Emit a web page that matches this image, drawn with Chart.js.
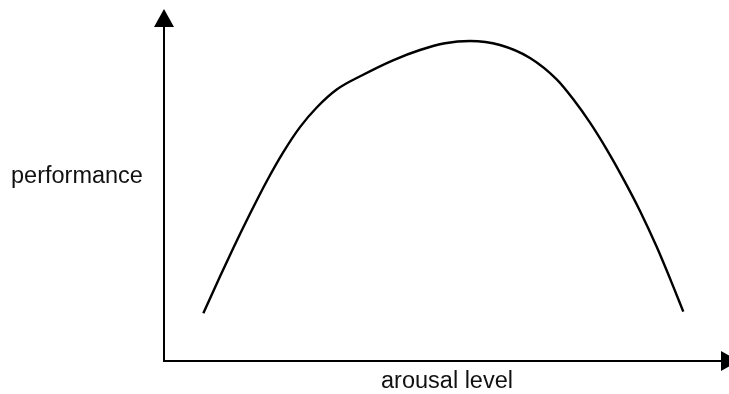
<!DOCTYPE html>
<html>
<head>
<meta charset="utf-8">
<script src="https://cdn.jsdelivr.net/npm/chart.js@4/dist/chart.umd.min.js"></script>
<style>
    html, body { margin: 0; padding: 0; background: #fff; }
    #wrap { width: 729px; height: 394px; }
</style>
</head>
<body>
<div id="wrap"><canvas id="curve" width="729" height="394"></canvas></div>
<script>
// arousal (0-100) vs performance (0-100)
const arousal = [6.96, 9.91, 12.27, 15.22, 18.18, 21.12, 24.07, 27.03, 30.57, 34.99, 40.53, 45.31, 49.73, 54.16, 59.47, 64.78, 69.50, 72.44, 75.40, 78.35, 81.29, 84.25, 87.20, 90.14, 91.91];
const performance = [13.55, 23.98, 32.10, 41.82, 51.08, 59.35, 66.45, 72.02, 77.13, 81.11, 85.43, 88.35, 90.26, 90.91, 89.77, 86.08, 80.00, 74.35, 67.70, 60.11, 51.76, 42.64, 32.44, 21.14, 14.03];
const xLabel = 'arousal level';
const yLabel = 'performance';

const font = '23.5px "Liberation Sans", Arial, sans-serif';

// axes with arrow heads + axis labels
const arrowAxes = {
    id: 'arrowAxes',
    afterDraw(chart) {
        const { ctx, chartArea: a } = chart;
        ctx.save();
        ctx.strokeStyle = '#000';
        ctx.fillStyle = '#000';
        ctx.lineWidth = 2;
        ctx.beginPath();
        ctx.moveTo(a.left, a.top + 16);
        ctx.lineTo(a.left, a.bottom);
        ctx.lineTo(a.right - 8, a.bottom);
        ctx.stroke();
        // up arrow
        ctx.beginPath();
        ctx.moveTo(a.left, a.top);
        ctx.lineTo(a.left - 10, a.top + 18);
        ctx.lineTo(a.left + 10, a.top + 18);
        ctx.closePath();
        ctx.fill();
        // right arrow (tip runs past the edge)
        ctx.beginPath();
        ctx.moveTo(a.right + 10, a.bottom);
        ctx.lineTo(a.right - 8, a.bottom - 10);
        ctx.lineTo(a.right - 8, a.bottom + 10);
        ctx.closePath();
        ctx.fill();

        ctx.font = font;
        ctx.fillStyle = '#111';
        ctx.textBaseline = 'alphabetic';
        ctx.textAlign = 'left';
        ctx.fillText(yLabel, 11, 183);
        ctx.textAlign = 'center';
        ctx.fillText(xLabel, 447, 388);
        ctx.restore();
    }
};

new Chart(document.getElementById('curve'), {
    type: 'line',
    data: {
        datasets: [{
            data: arousal.map((x, i) => ({ x, y: performance[i] })),
            borderColor: '#000',
            borderWidth: 2.4,
            pointRadius: 0,
            fill: false,
            cubicInterpolationMode: 'monotone'
        }]
    },
    options: {
        responsive: false,
        animation: false,
        layout: { padding: { left: 164, right: 0, top: 9, bottom: 33 } },
        plugins: { legend: { display: false }, tooltip: { enabled: false } },
        scales: {
            x: { type: 'linear', min: 0, max: 100, display: false },
            y: { min: 0, max: 100, display: false }
        }
    },
    plugins: [arrowAxes]
});
</script>
</body>
</html>
